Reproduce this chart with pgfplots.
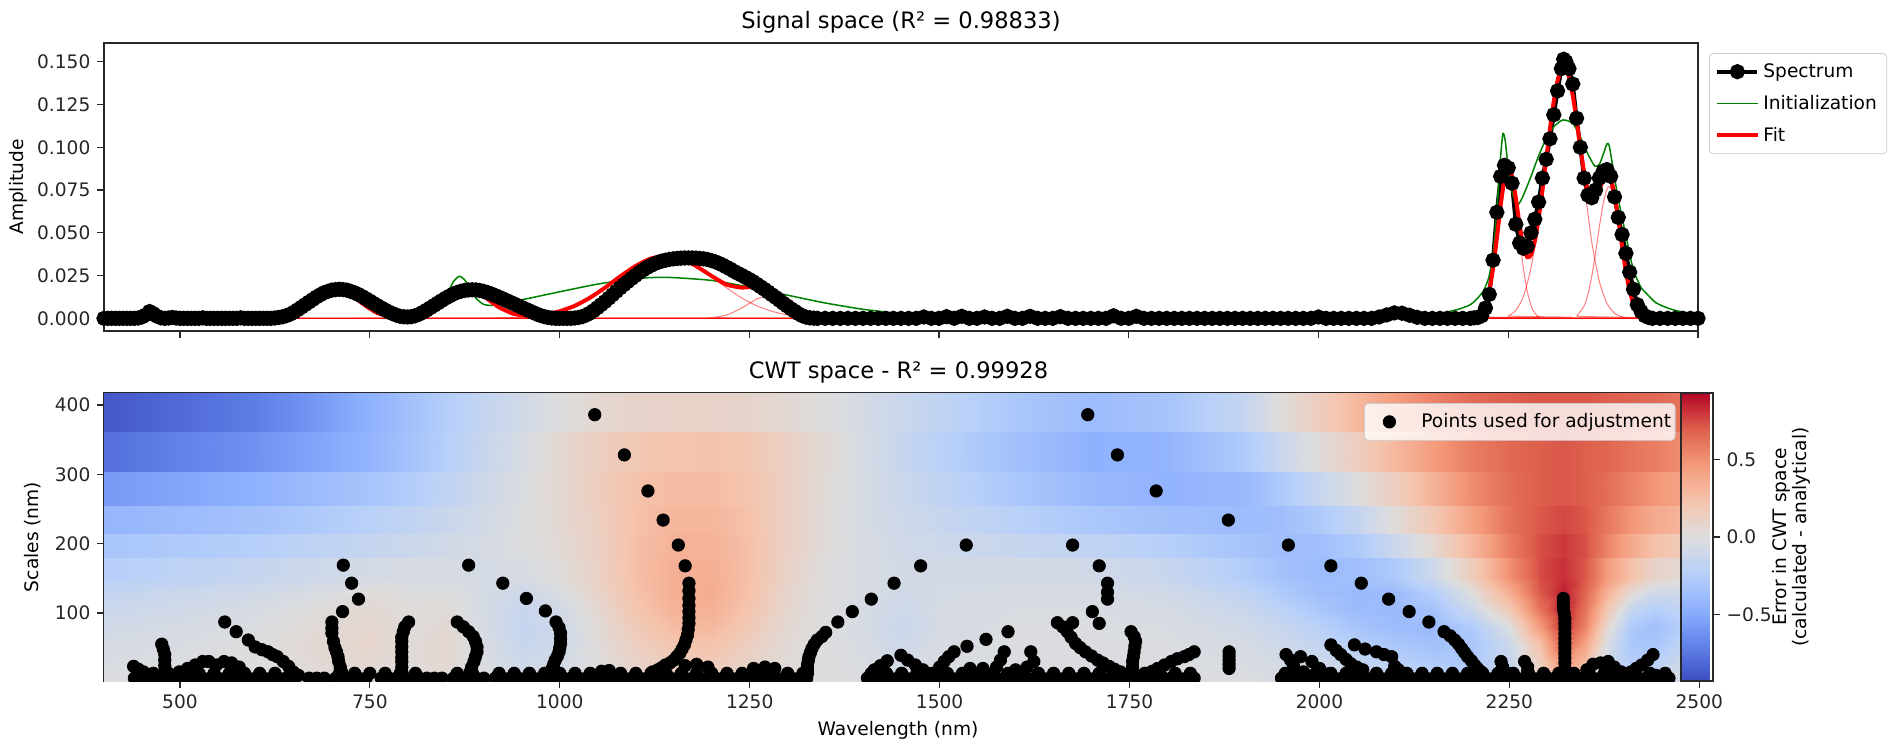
\documentclass[border=0pt]{standalone}
\usepackage{fontspec}
\setmainfont{DejaVu Sans}
\usepackage{pgfplots}
\pgfplotsset{compat=1.18}
\pgfplotsset{colormap={coolwarm}{rgb255=(59,76,192) rgb255=(98,130,234) rgb255=(141,176,254) rgb255=(184,208,249) rgb255=(221,221,221) rgb255=(245,196,173) rgb255=(244,154,123) rgb255=(222,96,77) rgb255=(180,4,38)}}
\definecolor{mplgreen}{RGB}{0,128,0}
\definecolor{spine}{RGB}{40,40,40}
\pgfplotsset{
  myaxis/.style={
    scale only axis,
    axis line style={spine, line width=0.6pt},
    tick align=outside,
    xtick pos=left, ytick pos=left,
    major tick length=3.5pt,
    every tick/.style={spine, line width=0.6pt},
    tick label style={font=\fontsize{9.3pt}{11pt}\selectfont, text=black!85},
    /pgf/number format/assume math mode=true,
    /pgf/number format/1000 sep={},
    label style={font=\fontsize{9.3pt}{11pt}\selectfont},
    title style={font=\fontsize{11.3pt}{13pt}\selectfont, yshift=-4.5pt},
    legend style={font=\fontsize{9.3pt}{11pt}\selectfont, draw=black!20, rounded corners=2pt, fill=white, fill opacity=0.8, text opacity=1},
    legend cell align=left,
  },
  comp/.style={red, opacity=0.5, line width=0.5pt, smooth, tension=0.4, forget plot, no marks},
}
\begin{document}
\fontsize{9.3pt}{11pt}\selectfont
\begin{tikzpicture}
\path[use as bounding box] (0,0) rectangle (945.5pt,-372pt);
% ---------------- top axis ----------------
\begin{axis}[myaxis, at={(52pt,-21.5pt)}, anchor=north west, width=797pt, height=144pt,
  xmin=400, xmax=2500, ymin=-0.0074, ymax=0.161,
  xtick={500,750,...,2500}, xticklabels={},
  ytick={0,0.025,0.05,0.075,0.1,0.125,0.15},
  yticklabel style={/pgf/number format/.cd, fixed, fixed zerofill, precision=3},
  scaled y ticks=false,
  ylabel={Amplitude}, ylabel style={at={(axis description cs:-0.054,0.5)}, anchor=center},
  title={Signal space (R² = 0.98833)},
  legend style={at={(1,1)}, anchor=north west, xshift=5.5pt, yshift=-5pt, row sep=3.5pt, inner ysep=3pt},
  legend image code/.code={\draw[mark repeat=2,mark phase=2,#1, opacity=1] plot coordinates {(0pt,0pt) (10pt,0pt) (20pt,0pt)};},
]
\addplot[black, line width=2pt, mark=*, mark size=2.8pt, mark options={solid}] coordinates {
(400,0) (405,0) (410,0) (415,0) (420,0) (425,0) (430,0) (435,0) (440,0) (445,0.0002) (450,0.0008) (455,0.002) (460,0.004) (465,0.0028) (470,0.0012) (475,0.0003) (480,0) (485,0.0002) (490,0.0005) (495,0.0002) (500,0) (505,0) (510,0) (515,0) (520,0) (525,0) (530,0.0003) (535,0) (540,0) (545,0) (550,0) (555,0) (560,0) (565,0) (570,0) (575,0) (580,0.0003) (585,0) (590,0) (595,0) (600,0) (605,0) (610,0) (615,0) (620,0) (625,0.0002) (630,0.0005) (635,0.0009) (640,0.0015) (645,0.0024) (650,0.0035) (655,0.005) (660,0.0065) (665,0.008) (670,0.0095) (675,0.011) (680,0.0125) (685,0.0138) (690,0.015) (695,0.0158) (700,0.0165) (705,0.0168) (710,0.017) (715,0.0168) (720,0.0165) (725,0.0158) (730,0.015) (735,0.014) (740,0.0128) (745,0.0115) (750,0.0102) (755,0.0088) (760,0.0075) (765,0.0062) (770,0.005) (775,0.0038) (780,0.0028) (785,0.0019) (790,0.0012) (795,0.0009) (800,0.0008) (805,0.001) (810,0.0015) (815,0.0024) (820,0.0035) (825,0.0048) (830,0.0062) (835,0.0076) (840,0.009) (845,0.0104) (850,0.0118) (855,0.013) (860,0.0142) (865,0.0151) (870,0.0158) (875,0.0163) (880,0.0166) (885,0.0167) (890,0.0166) (895,0.0163) (900,0.0158) (905,0.0151) (910,0.0143) (915,0.0134) (920,0.0125) (925,0.0115) (930,0.0105) (935,0.0095) (940,0.0085) (945,0.0075) (950,0.0065) (955,0.0055) (960,0.0045) (965,0.0035) (970,0.0025) (975,0.0017) (980,0.001) (985,0.0005) (990,0.0002) (995,0) (1000,0) (1005,0) (1010,0) (1015,0) (1020,0.0002) (1025,0.0005) (1030,0.001) (1035,0.0019) (1040,0.003) (1045,0.0045) (1050,0.0062) (1055,0.008) (1060,0.0098) (1065,0.0118) (1070,0.0138) (1075,0.0158) (1080,0.0178) (1085,0.0197) (1090,0.0215) (1095,0.0233) (1100,0.025) (1105,0.0267) (1110,0.0282) (1115,0.0296) (1120,0.0308) (1125,0.0319) (1130,0.0328) (1135,0.0335) (1140,0.034) (1145,0.0345) (1150,0.0348) (1155,0.035) (1160,0.0352) (1165,0.0353) (1170,0.0353) (1175,0.0353) (1180,0.0352) (1185,0.035) (1190,0.0348) (1195,0.0344) (1200,0.0338) (1205,0.0331) (1210,0.0322) (1215,0.0312) (1220,0.03) (1225,0.0288) (1230,0.0275) (1235,0.0263) (1240,0.0252) (1245,0.024) (1250,0.0228) (1255,0.0215) (1260,0.02) (1265,0.0185) (1270,0.017) (1275,0.0154) (1280,0.0138) (1285,0.0122) (1290,0.0105) (1295,0.0088) (1300,0.0072) (1305,0.0056) (1310,0.0042) (1315,0.0027) (1320,0.0015) (1325,0.0007) (1330,0.0003) (1335,0.0001)
(1340,0) (1350,0) (1360,0) (1370,0) (1380,0) (1390,0) (1400,0) (1410,0) (1420,0) (1430,0) (1440,0) (1450,0) (1460,0) (1470,0) (1480,0.0008) (1490,0) (1500,0) (1510,0.001) (1520,0) (1530,0.0012) (1540,0) (1550,0) (1560,0.0008) (1570,0) (1580,0) (1590,0.0012) (1600,0) (1610,0) (1620,0.0012) (1630,0) (1640,0) (1650,0) (1660,0.001) (1670,0) (1680,0) (1690,0) (1700,0) (1710,0) (1720,0) (1730,0.0015) (1740,0) (1750,0) (1760,0.0012) (1770,0) (1780,0) (1790,0) (1800,0) (1810,0) (1820,0) (1830,0) (1840,0) (1850,0) (1860,0) (1870,0) (1880,0) (1890,0) (1900,0) (1910,0) (1920,0) (1930,0) (1940,0) (1950,0) (1960,0) (1970,0) (1980,0) (1990,0) (2000,0.0008) (2010,0) (2020,0) (2030,0) (2040,0) (2050,0) (2060,0) (2070,0) (2080,0.0008) (2090,0.002) (2100,0.0032) (2110,0.003) (2120,0.0018) (2130,0.0006) (2140,0) (2150,0) (2160,0) (2170,0) (2180,0) (2190,0)
(2200,0) (2205,0.0003) (2210,0.0005) (2215,0.0015) (2220,0.006) (2225,0.014) (2230,0.034) (2235,0.062) (2240,0.083) (2245,0.0895) (2250,0.088) (2255,0.079) (2260,0.055) (2265,0.044) (2270,0.041) (2275,0.042) (2280,0.05) (2285,0.058) (2290,0.068) (2295,0.082) (2300,0.093) (2305,0.105) (2310,0.119) (2315,0.133) (2320,0.146) (2323,0.1515) (2326,0.15) (2330,0.146) (2335,0.137) (2340,0.117) (2345,0.1) (2350,0.082) (2355,0.072) (2360,0.0705) (2365,0.075) (2370,0.082) (2375,0.086) (2380,0.087) (2385,0.083) (2390,0.071) (2395,0.059) (2400,0.049) (2405,0.038) (2410,0.027) (2415,0.017) (2420,0.008) (2425,0.004) (2430,0.0015) (2435,0.0005) (2440,0) (2450,0) (2460,0) (2470,0) (2480,0) (2490,0) (2500,0)};
\addlegendentry{Spectrum}
\addplot[mplgreen, line width=0.75pt, smooth, tension=0.4, no marks] coordinates {
(400,0) (440,0) (450,0.0004) (455,0.0015) (460,0.0028) (465,0.0026) (470,0.0012) (480,0.0001) (500,0) (600,0) (620,0.0001) (640,0.0004) (660,0.0027) (680,0.0096) (690,0.0142) (700,0.0178) (708,0.0188) (720,0.0167) (740,0.0082) (760,0.0028) (780,0.0016) (800,0.0018) (820,0.0026) (830,0.0035) (840,0.0059) (850,0.0124) (860,0.0212) (868,0.0246) (875,0.0226) (880,0.0192) (890,0.0118) (900,0.0082) (910,0.0076) (930,0.0092) (950,0.0108) (1000,0.0155) (1050,0.02) (1100,0.0232) (1140,0.024) (1200,0.0222) (1250,0.0183) (1300,0.0136) (1350,0.009) (1400,0.0053) (1450,0.0028) (1500,0.0013) (1550,0.0006) (1600,0.0002) (1700,0) (2060,0) (2090,0.0012) (2100,0.0018) (2110,0.0012) (2130,0.0008) (2150,0.002) (2182,0.005) (2200,0.008) (2210,0.012) (2218,0.0166) (2225,0.025) (2231,0.042) (2236,0.07) (2240,0.095) (2243,0.108) (2246,0.104) (2250,0.088) (2255,0.074) (2260,0.068) (2264,0.067) (2270,0.072) (2280,0.083) (2290,0.095) (2300,0.105) (2310,0.112) (2322,0.116) (2335,0.114) (2345,0.106) (2355,0.096) (2364,0.089) (2370,0.09) (2376,0.097) (2380,0.102) (2383,0.101) (2388,0.088) (2394,0.072) (2400,0.059) (2408,0.042) (2415,0.028) (2425,0.018) (2432,0.0146) (2445,0.009) (2467,0.005) (2500,0.002)};
\addlegendentry{Initialization}
\addplot[red, line width=2pt, smooth, tension=0.4, no marks] coordinates {
(400,0) (440,0) (450,0.0004) (455,0.0015) (460,0.0028) (465,0.0026) (470,0.0012) (480,0.0001) (500,0) (600,0) (620,0.0004) (640,0.0021) (660,0.0068) (680,0.0142) (690,0.0173) (700,0.0189) (710,0.0185) (720,0.0162) (740,0.0089) (760,0.0031) (780,0.0011) (800,0.0018) (820,0.0054) (840,0.0116) (860,0.0173) (872,0.0185) (880,0.018) (900,0.013) (920,0.0066) (940,0.0026) (960,0.0015) (980,0.0022) (1000,0.0041) (1020,0.0073) (1040,0.012) (1060,0.0179) (1080,0.0245) (1100,0.0305) (1120,0.0349) (1140,0.0365) (1160,0.0349) (1180,0.0306) (1200,0.0249) (1220,0.0198) (1240,0.018) (1260,0.0186) (1280,0.0169) (1300,0.0108) (1320,0.0046) (1340,0.0013) (1360,0.0002) (1380,0) (2060,0) (2080,0.0005) (2090,0.0014) (2100,0.002) (2110,0.0014) (2120,0.0005) (2140,0) (2200,0.0001) (2210,0.0011) (2215,0.003) (2220,0.0077) (2225,0.0159) (2230,0.0293) (2235,0.0469) (2240,0.066) (2245,0.0812) (2250,0.0874) (2255,0.0831) (2260,0.0703) (2265,0.0547) (2270,0.042) (2275,0.0358) (2280,0.0371) (2285,0.0451) (2290,0.0582) (2295,0.0748) (2300,0.093) (2305,0.111) (2310,0.127) (2315,0.139) (2320,0.1459) (2323,0.147) (2325,0.1466) (2330,0.1411) (2335,0.1302) (2340,0.1158) (2345,0.1) (2350,0.0854) (2355,0.0745) (2360,0.0693) (2365,0.07) (2370,0.075) (2375,0.0811) (2380,0.0843) (2385,0.0815) (2390,0.0722) (2395,0.058) (2400,0.0421) (2405,0.0274) (2410,0.0161) (2415,0.0084) (2420,0.004) (2425,0.0017) (2430,0.0006) (2440,0.0001) (2500,0)};
\addlegendentry{Fit}
\addplot[comp] coordinates {(400,0) (440,0) (450,0.0004) (455,0.0015) (460,0.0028) (462,0.003) (465,0.0026) (470,0.0012) (475,0.0003) (485,0) (2500,0)};
\addplot[comp] coordinates {(400,0) (600,0) (620,0.0004) (640,0.0021) (660,0.0068) (680,0.0142) (690,0.0173) (703,0.019) (716,0.0173) (720,0.0162) (740,0.0089) (760,0.0031) (780,0.0007) (800,0.0001) (820,0) (2500,0)};
\addplot[comp] coordinates {(400,0) (760,0) (780,0.0004) (800,0.0017) (820,0.0054) (840,0.0116) (860,0.0173) (872,0.0185) (884,0.0173) (900,0.0129) (920,0.0064) (940,0.0022) (960,0.0005) (980,0.0001) (1000,0) (2500,0)};
\addplot[comp] coordinates {(400,0) (880,0) (900,0.0001) (940,0.0004) (960,0.001) (980,0.0021) (1000,0.0041) (1020,0.0073) (1040,0.012) (1060,0.0179) (1080,0.0245) (1100,0.0305) (1120,0.0349) (1140,0.0365) (1160,0.0349) (1180,0.0305) (1200,0.0245) (1220,0.0179) (1240,0.012) (1260,0.0073) (1280,0.0041) (1300,0.0021) (1320,0.001) (1340,0.0004) (1360,0.0001) (1400,0) (2500,0)};
\addplot[comp] coordinates {(400,0) (1180,0) (1200,0.0004) (1220,0.0019) (1240,0.006) (1260,0.0113) (1275,0.013) (1290,0.0113) (1300,0.0087) (1320,0.0036) (1340,0.0009) (1360,0.0001) (1380,0) (2500,0)};
\addplot[comp] coordinates {(400,0) (2070,0) (2080,0.0005) (2090,0.0014) (2100,0.002) (2110,0.0014) (2120,0.0005) (2130,0) (2500,0)};
\addplot[comp] coordinates {(400,0) (2200,0.0001) (2210,0.0011) (2220,0.0076) (2225,0.0159) (2230,0.0292) (2235,0.0468) (2240,0.0656) (2245,0.0804) (2250,0.086) (2255,0.0804) (2260,0.0656) (2265,0.0468) (2270,0.0292) (2275,0.0159) (2280,0.0076) (2285,0.0031) (2290,0.0011) (2300,0.0001) (2500,0)};
\addplot[comp] coordinates {(400,0) (2240,0.0004) (2250,0.0014) (2260,0.0047) (2270,0.0128) (2280,0.0295) (2290,0.0571) (2300,0.0929) (2305,0.111) (2310,0.127) (2315,0.139) (2320,0.1459) (2323,0.147) (2326,0.1459) (2330,0.1409) (2335,0.1297) (2340,0.1144) (2345,0.0966) (2350,0.0781) (2360,0.0448) (2370,0.0216) (2380,0.0088) (2390,0.003) (2400,0.0009) (2410,0.0002) (2500,0)};
\addplot[comp] coordinates {(400,0) (2330,0.0002) (2340,0.0014) (2350,0.0073) (2355,0.0141) (2360,0.0245) (2365,0.0382) (2370,0.0534) (2375,0.067) (2380,0.0755) (2383,0.077) (2386,0.0755) (2390,0.0692) (2395,0.0564) (2400,0.0412) (2405,0.027) (2410,0.0159) (2415,0.0084) (2420,0.004) (2430,0.0006) (2440,0.0001) (2500,0)};
\end{axis}
% ---------------- bottom axis ----------------
\begin{axis}[myaxis, at={(52pt,-196.5pt)}, anchor=north west, width=804.5pt, height=144pt,
  xmin=400, xmax=2518, ymin=1.9, ymax=417.3,
  xtick={500,750,...,2500}, ytick={100,200,300,400},
  colormap name=coolwarm, point meta min=-0.93, point meta max=0.93,
  colorbar,
  colorbar style={
    at={(parent axis.north east)}, anchor=north east, xshift=-0.3cm,
    width=16pt,
    ytick={-0.5,0,0.5}, yticklabels={−0.5,0.0,0.5},
    ytick pos=right, yticklabel pos=right,
    tick align=outside, major tick length=3.5pt,
    every tick/.style={spine, line width=0.6pt},
    axis line style={spine, line width=0.6pt},
    tick label style={font=\fontsize{9.3pt}{11pt}\selectfont, text=black!85},
    ylabel={Error in CWT space\\(calculated - analytical)},
    ylabel style={at={(axis description cs:3.45,0.5)}, anchor=center, align=center, font=\fontsize{9.3pt}{10.3pt}\selectfont},
  },
  xlabel={Wavelength (nm)}, xlabel style={at={(axis description cs:0.4935,-0.170)}, anchor=center},
  ylabel={Scales (nm)}, ylabel style={at={(axis description cs:-0.0441,0.5)}, anchor=center},
  title={CWT space - R² = 0.99928}, title style={xshift=-5pt},
  clip marker paths=true,
  legend style={at={(0.7831,1)}, anchor=north west, yshift=-5pt, inner xsep=0pt, inner ysep=3pt},
  legend image code/.code={\path[draw=none] (-12.5pt,0pt) -- (14pt,0pt); \draw[#1, opacity=1] plot coordinates {(0pt,0pt)};},
]
\addplot[surf, shader=interp, mesh/cols=38, point meta=explicit, forget plot] table[row sep=\\, meta=v] {
x y v\\
400 417 -0.88\\ 500 417 -0.80\\ 600 417 -0.72\\ 700 417 -0.55\\ 750 417 -0.45\\ 800 417 -0.35\\ 850 417 -0.25\\ 900 417 -0.16\\ 950 417 -0.08\\ 1000 417 0.00\\ 1050 417 0.06\\ 1100 417 0.09\\ 1150 417 0.10\\ 1200 417 0.10\\ 1250 417 0.08\\ 1300 417 0.05\\ 1350 417 0.00\\ 1400 417 -0.06\\ 1450 417 -0.12\\ 1500 417 -0.18\\ 1600 417 -0.30\\ 1700 417 -0.38\\ 1800 417 -0.32\\ 1900 417 -0.15\\ 1950 417 0.02\\ 2000 417 0.15\\ 2050 417 0.30\\ 2100 417 0.45\\ 2150 417 0.56\\ 2200 417 0.65\\ 2250 417 0.70\\ 2290 417 0.72\\ 2320 417 0.72\\ 2350 417 0.72\\ 2380 417 0.70\\ 2410 417 0.68\\ 2440 417 0.66\\ 2475 417 0.62\\
400 362 -0.88\\ 500 362 -0.80\\ 600 362 -0.72\\ 700 362 -0.55\\ 750 362 -0.45\\ 800 362 -0.35\\ 850 362 -0.25\\ 900 362 -0.16\\ 950 362 -0.08\\ 1000 362 0.00\\ 1050 362 0.06\\ 1100 362 0.09\\ 1150 362 0.10\\ 1200 362 0.10\\ 1250 362 0.08\\ 1300 362 0.05\\ 1350 362 0.00\\ 1400 362 -0.06\\ 1450 362 -0.12\\ 1500 362 -0.18\\ 1600 362 -0.30\\ 1700 362 -0.38\\ 1800 362 -0.32\\ 1900 362 -0.15\\ 1950 362 0.02\\ 2000 362 0.15\\ 2050 362 0.30\\ 2100 362 0.45\\ 2150 362 0.56\\ 2200 362 0.65\\ 2250 362 0.70\\ 2290 362 0.72\\ 2320 362 0.72\\ 2350 362 0.72\\ 2380 362 0.70\\ 2410 362 0.68\\ 2440 362 0.66\\ 2475 362 0.62\\
400 361 -0.78\\ 500 361 -0.70\\ 600 361 -0.62\\ 700 361 -0.50\\ 750 361 -0.43\\ 800 361 -0.34\\ 850 361 -0.24\\ 900 361 -0.14\\ 950 361 -0.04\\ 1000 361 0.06\\ 1050 361 0.14\\ 1100 361 0.20\\ 1150 361 0.23\\ 1200 361 0.24\\ 1250 361 0.20\\ 1300 361 0.12\\ 1350 361 0.04\\ 1400 361 -0.05\\ 1450 361 -0.14\\ 1500 361 -0.22\\ 1600 361 -0.35\\ 1700 361 -0.45\\ 1800 361 -0.43\\ 1900 361 -0.28\\ 1950 361 -0.12\\ 2000 361 0.02\\ 2050 361 0.15\\ 2100 361 0.30\\ 2150 361 0.45\\ 2200 361 0.58\\ 2250 361 0.66\\ 2290 361 0.70\\ 2320 361 0.72\\ 2350 361 0.70\\ 2380 361 0.67\\ 2410 361 0.62\\ 2440 361 0.58\\ 2475 361 0.52\\
400 304 -0.78\\ 500 304 -0.70\\ 600 304 -0.62\\ 700 304 -0.50\\ 750 304 -0.43\\ 800 304 -0.34\\ 850 304 -0.24\\ 900 304 -0.14\\ 950 304 -0.04\\ 1000 304 0.06\\ 1050 304 0.14\\ 1100 304 0.20\\ 1150 304 0.23\\ 1200 304 0.24\\ 1250 304 0.20\\ 1300 304 0.12\\ 1350 304 0.04\\ 1400 304 -0.05\\ 1450 304 -0.14\\ 1500 304 -0.22\\ 1600 304 -0.35\\ 1700 304 -0.45\\ 1800 304 -0.43\\ 1900 304 -0.28\\ 1950 304 -0.12\\ 2000 304 0.02\\ 2050 304 0.15\\ 2100 304 0.30\\ 2150 304 0.45\\ 2200 304 0.58\\ 2250 304 0.66\\ 2290 304 0.70\\ 2320 304 0.72\\ 2350 304 0.70\\ 2380 304 0.67\\ 2410 304 0.62\\ 2440 304 0.58\\ 2475 304 0.52\\
400 303 -0.58\\ 500 303 -0.52\\ 600 303 -0.45\\ 700 303 -0.36\\ 750 303 -0.32\\ 800 303 -0.26\\ 850 303 -0.18\\ 900 303 -0.10\\ 950 303 -0.02\\ 1000 303 0.06\\ 1050 303 0.15\\ 1100 303 0.24\\ 1150 303 0.28\\ 1200 303 0.28\\ 1250 303 0.22\\ 1300 303 0.12\\ 1350 303 0.03\\ 1400 303 -0.05\\ 1450 303 -0.12\\ 1500 303 -0.18\\ 1600 303 -0.30\\ 1700 303 -0.40\\ 1800 303 -0.44\\ 1900 303 -0.40\\ 1950 303 -0.28\\ 2000 303 -0.14\\ 2050 303 0.00\\ 2100 303 0.15\\ 2150 303 0.33\\ 2200 303 0.52\\ 2250 303 0.64\\ 2290 303 0.70\\ 2320 303 0.72\\ 2350 303 0.70\\ 2380 303 0.64\\ 2410 303 0.56\\ 2440 303 0.48\\ 2475 303 0.42\\
400 256 -0.58\\ 500 256 -0.52\\ 600 256 -0.45\\ 700 256 -0.36\\ 750 256 -0.32\\ 800 256 -0.26\\ 850 256 -0.18\\ 900 256 -0.10\\ 950 256 -0.02\\ 1000 256 0.06\\ 1050 256 0.15\\ 1100 256 0.24\\ 1150 256 0.28\\ 1200 256 0.28\\ 1250 256 0.22\\ 1300 256 0.12\\ 1350 256 0.03\\ 1400 256 -0.05\\ 1450 256 -0.12\\ 1500 256 -0.18\\ 1600 256 -0.30\\ 1700 256 -0.40\\ 1800 256 -0.44\\ 1900 256 -0.40\\ 1950 256 -0.28\\ 2000 256 -0.14\\ 2050 256 0.00\\ 2100 256 0.15\\ 2150 256 0.33\\ 2200 256 0.52\\ 2250 256 0.64\\ 2290 256 0.70\\ 2320 256 0.72\\ 2350 256 0.70\\ 2380 256 0.64\\ 2410 256 0.56\\ 2440 256 0.48\\ 2475 256 0.42\\
400 255 -0.42\\ 500 255 -0.38\\ 600 255 -0.34\\ 700 255 -0.26\\ 750 255 -0.22\\ 800 255 -0.18\\ 850 255 -0.13\\ 900 255 -0.07\\ 950 255 -0.01\\ 1000 255 0.05\\ 1050 255 0.14\\ 1100 255 0.25\\ 1150 255 0.31\\ 1200 255 0.31\\ 1250 255 0.24\\ 1300 255 0.12\\ 1350 255 0.02\\ 1400 255 -0.05\\ 1450 255 -0.10\\ 1500 255 -0.14\\ 1600 255 -0.22\\ 1700 255 -0.30\\ 1800 255 -0.35\\ 1900 255 -0.38\\ 1950 255 -0.36\\ 2000 255 -0.28\\ 2050 255 -0.16\\ 2100 255 0.02\\ 2150 255 0.20\\ 2200 255 0.42\\ 2250 255 0.62\\ 2290 255 0.72\\ 2320 255 0.76\\ 2350 255 0.72\\ 2380 255 0.60\\ 2410 255 0.48\\ 2440 255 0.38\\ 2475 255 0.32\\
400 215 -0.42\\ 500 215 -0.38\\ 600 215 -0.34\\ 700 215 -0.26\\ 750 215 -0.22\\ 800 215 -0.18\\ 850 215 -0.13\\ 900 215 -0.07\\ 950 215 -0.01\\ 1000 215 0.05\\ 1050 215 0.14\\ 1100 215 0.25\\ 1150 215 0.31\\ 1200 215 0.31\\ 1250 215 0.24\\ 1300 215 0.12\\ 1350 215 0.02\\ 1400 215 -0.05\\ 1450 215 -0.10\\ 1500 215 -0.14\\ 1600 215 -0.22\\ 1700 215 -0.30\\ 1800 215 -0.35\\ 1900 215 -0.38\\ 1950 215 -0.36\\ 2000 215 -0.28\\ 2050 215 -0.16\\ 2100 215 0.02\\ 2150 215 0.20\\ 2200 215 0.42\\ 2250 215 0.62\\ 2290 215 0.72\\ 2320 215 0.76\\ 2350 215 0.72\\ 2380 215 0.60\\ 2410 215 0.48\\ 2440 215 0.38\\ 2475 215 0.32\\
400 214 -0.31\\ 500 214 -0.28\\ 600 214 -0.24\\ 700 214 -0.18\\ 750 214 -0.15\\ 800 214 -0.12\\ 850 214 -0.08\\ 900 214 -0.05\\ 950 214 -0.01\\ 1000 214 0.04\\ 1050 214 0.13\\ 1100 214 0.26\\ 1150 214 0.33\\ 1200 214 0.33\\ 1250 214 0.25\\ 1300 214 0.12\\ 1350 214 0.02\\ 1400 214 -0.04\\ 1450 214 -0.08\\ 1500 214 -0.10\\ 1600 214 -0.14\\ 1700 214 -0.18\\ 1800 214 -0.24\\ 1900 214 -0.32\\ 1950 214 -0.36\\ 2000 214 -0.36\\ 2050 214 -0.28\\ 2100 214 -0.12\\ 2150 214 0.06\\ 2200 214 0.30\\ 2250 214 0.58\\ 2290 214 0.74\\ 2320 214 0.80\\ 2350 214 0.74\\ 2380 214 0.55\\ 2410 214 0.38\\ 2440 214 0.25\\ 2475 214 0.18\\
400 181 -0.31\\ 500 181 -0.28\\ 600 181 -0.24\\ 700 181 -0.18\\ 750 181 -0.15\\ 800 181 -0.12\\ 850 181 -0.08\\ 900 181 -0.05\\ 950 181 -0.01\\ 1000 181 0.04\\ 1050 181 0.13\\ 1100 181 0.26\\ 1150 181 0.33\\ 1200 181 0.33\\ 1250 181 0.25\\ 1300 181 0.12\\ 1350 181 0.02\\ 1400 181 -0.04\\ 1450 181 -0.08\\ 1500 181 -0.10\\ 1600 181 -0.14\\ 1700 181 -0.18\\ 1800 181 -0.24\\ 1900 181 -0.32\\ 1950 181 -0.36\\ 2000 181 -0.36\\ 2050 181 -0.28\\ 2100 181 -0.12\\ 2150 181 0.06\\ 2200 181 0.30\\ 2250 181 0.58\\ 2290 181 0.74\\ 2320 181 0.80\\ 2350 181 0.74\\ 2380 181 0.55\\ 2410 181 0.38\\ 2440 181 0.25\\ 2475 181 0.18\\
400 180 -0.24\\ 500 180 -0.20\\ 600 180 -0.15\\ 700 180 -0.09\\ 750 180 -0.06\\ 800 180 -0.05\\ 850 180 -0.05\\ 900 180 -0.06\\ 950 180 -0.04\\ 1000 180 0.02\\ 1050 180 0.12\\ 1100 180 0.26\\ 1150 180 0.35\\ 1200 180 0.35\\ 1250 180 0.25\\ 1300 180 0.10\\ 1350 180 0.00\\ 1400 180 -0.04\\ 1450 180 -0.07\\ 1500 180 -0.07\\ 1600 180 -0.07\\ 1700 180 -0.08\\ 1800 180 -0.14\\ 1900 180 -0.26\\ 1950 180 -0.34\\ 2000 180 -0.38\\ 2050 180 -0.36\\ 2100 180 -0.28\\ 2150 180 -0.10\\ 2200 180 0.15\\ 2250 180 0.50\\ 2290 180 0.75\\ 2320 180 0.82\\ 2350 180 0.72\\ 2380 180 0.45\\ 2410 180 0.25\\ 2440 180 0.10\\ 2475 180 0.05\\
400 152 -0.24\\ 500 152 -0.20\\ 600 152 -0.15\\ 700 152 -0.09\\ 750 152 -0.06\\ 800 152 -0.05\\ 850 152 -0.05\\ 900 152 -0.06\\ 950 152 -0.04\\ 1000 152 0.02\\ 1050 152 0.12\\ 1100 152 0.26\\ 1150 152 0.35\\ 1200 152 0.35\\ 1250 152 0.25\\ 1300 152 0.10\\ 1350 152 0.00\\ 1400 152 -0.04\\ 1450 152 -0.07\\ 1500 152 -0.07\\ 1600 152 -0.07\\ 1700 152 -0.08\\ 1800 152 -0.14\\ 1900 152 -0.26\\ 1950 152 -0.34\\ 2000 152 -0.38\\ 2050 152 -0.36\\ 2100 152 -0.28\\ 2150 152 -0.10\\ 2200 152 0.15\\ 2250 152 0.50\\ 2290 152 0.75\\ 2320 152 0.82\\ 2350 152 0.72\\ 2380 152 0.45\\ 2410 152 0.25\\ 2440 152 0.10\\ 2475 152 0.05\\
400 130 -0.16\\ 500 130 -0.12\\ 600 130 -0.08\\ 700 130 -0.02\\ 750 130 0.02\\ 800 130 0.00\\ 850 130 0.00\\ 900 130 -0.06\\ 950 130 -0.10\\ 1000 130 -0.03\\ 1050 130 0.10\\ 1100 130 0.25\\ 1150 130 0.35\\ 1200 130 0.36\\ 1250 130 0.24\\ 1300 130 0.08\\ 1350 130 0.00\\ 1400 130 -0.04\\ 1450 130 -0.08\\ 1500 130 -0.06\\ 1600 130 -0.04\\ 1700 130 -0.04\\ 1800 130 -0.08\\ 1900 130 -0.18\\ 1950 130 -0.28\\ 2000 130 -0.36\\ 2050 130 -0.40\\ 2100 130 -0.38\\ 2150 130 -0.24\\ 2200 130 0.00\\ 2250 130 0.36\\ 2290 130 0.72\\ 2320 130 0.86\\ 2350 130 0.68\\ 2380 130 0.32\\ 2410 130 0.05\\ 2440 130 -0.08\\ 2475 130 -0.08\\
400 105 -0.12\\ 500 105 -0.08\\ 600 105 -0.04\\ 700 105 0.03\\ 750 105 0.05\\ 800 105 0.02\\ 850 105 0.03\\ 900 105 -0.06\\ 950 105 -0.14\\ 1000 105 -0.08\\ 1050 105 0.06\\ 1100 105 0.22\\ 1150 105 0.33\\ 1200 105 0.34\\ 1250 105 0.22\\ 1300 105 0.07\\ 1350 105 0.00\\ 1400 105 -0.05\\ 1450 105 -0.10\\ 1500 105 -0.05\\ 1600 105 -0.03\\ 1700 105 -0.03\\ 1800 105 -0.05\\ 1900 105 -0.12\\ 1950 105 -0.20\\ 2000 105 -0.30\\ 2050 105 -0.38\\ 2100 105 -0.40\\ 2150 105 -0.34\\ 2200 105 -0.12\\ 2250 105 0.18\\ 2290 105 0.62\\ 2320 105 0.88\\ 2350 105 0.62\\ 2380 105 0.18\\ 2410 105 -0.15\\ 2440 105 -0.25\\ 2475 105 -0.18\\
400 80 -0.08\\ 500 80 -0.05\\ 600 80 -0.02\\ 700 80 0.05\\ 750 80 0.07\\ 800 80 0.02\\ 850 80 0.05\\ 900 80 -0.05\\ 950 80 -0.15\\ 1000 80 -0.10\\ 1050 80 0.03\\ 1100 80 0.18\\ 1150 80 0.28\\ 1200 80 0.30\\ 1250 80 0.18\\ 1300 80 0.05\\ 1350 80 0.00\\ 1400 80 -0.05\\ 1450 80 -0.12\\ 1500 80 -0.05\\ 1600 80 -0.02\\ 1700 80 -0.02\\ 1800 80 -0.03\\ 1900 80 -0.08\\ 1950 80 -0.14\\ 2000 80 -0.22\\ 2050 80 -0.32\\ 2100 80 -0.38\\ 2150 80 -0.40\\ 2200 80 -0.28\\ 2250 80 -0.02\\ 2290 80 0.45\\ 2320 80 0.85\\ 2350 80 0.55\\ 2380 80 0.05\\ 2410 80 -0.28\\ 2440 80 -0.35\\ 2475 80 -0.25\\
400 55 -0.05\\ 500 55 -0.03\\ 600 55 0.00\\ 700 55 0.06\\ 750 55 0.08\\ 800 55 0.02\\ 850 55 0.07\\ 900 55 -0.03\\ 950 55 -0.14\\ 1000 55 -0.10\\ 1050 55 0.02\\ 1100 55 0.14\\ 1150 55 0.22\\ 1200 55 0.24\\ 1250 55 0.14\\ 1300 55 0.04\\ 1350 55 0.00\\ 1400 55 -0.04\\ 1450 55 -0.10\\ 1500 55 -0.04\\ 1600 55 -0.02\\ 1700 55 -0.02\\ 1800 55 -0.02\\ 1900 55 -0.05\\ 1950 55 -0.10\\ 2000 55 -0.16\\ 2050 55 -0.24\\ 2100 55 -0.30\\ 2150 55 -0.35\\ 2200 55 -0.32\\ 2250 55 -0.12\\ 2290 55 0.25\\ 2320 55 0.72\\ 2350 55 0.42\\ 2380 55 -0.05\\ 2410 55 -0.30\\ 2440 55 -0.32\\ 2475 55 -0.18\\
400 30 -0.03\\ 500 30 -0.02\\ 600 30 0.00\\ 700 30 0.05\\ 750 30 0.06\\ 800 30 0.02\\ 850 30 0.06\\ 900 30 -0.02\\ 950 30 -0.10\\ 1000 30 -0.08\\ 1050 30 0.01\\ 1100 30 0.10\\ 1150 30 0.16\\ 1200 30 0.18\\ 1250 30 0.10\\ 1300 30 0.03\\ 1350 30 0.00\\ 1400 30 -0.03\\ 1450 30 -0.07\\ 1500 30 -0.03\\ 1600 30 -0.02\\ 1700 30 -0.02\\ 1800 30 -0.02\\ 1900 30 -0.03\\ 1950 30 -0.06\\ 2000 30 -0.10\\ 2050 30 -0.16\\ 2100 30 -0.22\\ 2150 30 -0.28\\ 2200 30 -0.30\\ 2250 30 -0.15\\ 2290 30 0.15\\ 2320 30 0.50\\ 2350 30 0.28\\ 2380 30 -0.08\\ 2410 30 -0.25\\ 2440 30 -0.24\\ 2475 30 -0.10\\
400 12 -0.02\\ 500 12 -0.01\\ 600 12 0.00\\ 700 12 0.03\\ 750 12 0.04\\ 800 12 0.01\\ 850 12 0.04\\ 900 12 -0.01\\ 950 12 -0.06\\ 1000 12 -0.05\\ 1050 12 0.01\\ 1100 12 0.07\\ 1150 12 0.12\\ 1200 12 0.13\\ 1250 12 0.07\\ 1300 12 0.02\\ 1350 12 0.00\\ 1400 12 -0.02\\ 1450 12 -0.04\\ 1500 12 -0.02\\ 1600 12 -0.01\\ 1700 12 -0.01\\ 1800 12 -0.01\\ 1900 12 -0.02\\ 1950 12 -0.04\\ 2000 12 -0.06\\ 2050 12 -0.10\\ 2100 12 -0.15\\ 2150 12 -0.20\\ 2200 12 -0.22\\ 2250 12 -0.12\\ 2290 12 0.10\\ 2320 12 0.32\\ 2350 12 0.18\\ 2380 12 -0.06\\ 2410 12 -0.18\\ 2440 12 -0.16\\ 2475 12 -0.06\\
400 1.9 -0.02\\ 500 1.9 -0.01\\ 600 1.9 0.00\\ 700 1.9 0.03\\ 750 1.9 0.04\\ 800 1.9 0.01\\ 850 1.9 0.04\\ 900 1.9 -0.01\\ 950 1.9 -0.06\\ 1000 1.9 -0.05\\ 1050 1.9 0.01\\ 1100 1.9 0.07\\ 1150 1.9 0.12\\ 1200 1.9 0.13\\ 1250 1.9 0.07\\ 1300 1.9 0.02\\ 1350 1.9 0.00\\ 1400 1.9 -0.02\\ 1450 1.9 -0.04\\ 1500 1.9 -0.02\\ 1600 1.9 -0.01\\ 1700 1.9 -0.01\\ 1800 1.9 -0.01\\ 1900 1.9 -0.02\\ 1950 1.9 -0.04\\ 2000 1.9 -0.06\\ 2050 1.9 -0.10\\ 2100 1.9 -0.15\\ 2150 1.9 -0.20\\ 2200 1.9 -0.22\\ 2250 1.9 -0.12\\ 2290 1.9 0.10\\ 2320 1.9 0.32\\ 2350 1.9 0.18\\ 2380 1.9 -0.06\\ 2410 1.9 -0.18\\ 2440 1.9 -0.16\\ 2475 1.9 -0.06\\
};
\addplot[only marks, mark=*, mark size=3.1pt, black] coordinates {
(439,23) (445,19) (452,15) (458,11) (465,8) (476,55) (478,48) (480,40) (480,32) (480,24) (480,16)
(499,15) (510,20) (520,25) (530,30) (538,30) (548,25) (558,30) (568,28) (578,22)
(559,87) (574,73) (590,61) (599,51) (608,47) (616,44) (622,40) (628,37) (636,30) (643,23) (649,15) (656,10)
(715,169) (726,143) (735,120) (714,102) (700,87) (700,78) (700,71) (702,59) (704,50) (706,44) (708,37) (709,30) (711,22) (713,14)
(801,87) (796,80) (794,73) (792,65) (792,59) (792,51) (792,44) (792,36) (792,30) (792,22) (792,15)
(865,87) (873,80) (880,73) (886,66) (889,59) (891,51) (891,44) (889,37) (887,30) (884,22) (882,15)
(880,169) (925,143) (956,121) (981,103) (995,87) (999,79) (1001,71) (1001,63) (1001,56) (1000,50) (999,44) (997,38) (994,32) (992,26) (990,20) (989,14)
(1046,386) (1085,328) (1116,276) (1136,234) (1156,198) (1165,168) (1170,143) (1170,132) (1170,121) (1170,111) (1170,102) (1170,93) (1170,85) (1169,76) (1168,68) (1166,61) (1164,54) (1161,48) (1158,42) (1154,37) (1150,32) (1145,28) (1139,25) (1134,21) (1129,18) (1122,15)
(1055,16) (1065,17) (1165,24) (1180,26) (1195,22) (1255,20) (1270,22) (1283,20)
(1535,198) (1475,168) (1440,143) (1410,120) (1385,102) (1366,87) (1350,72) (1345,66) (1339,61) (1335,55) (1332,49) (1330,43) (1328,37) (1327,31) (1326,25) (1326,19) (1326,13)
(1414,18) (1422,24) (1431,31) (1449,39) (1458,32) (1468,25) (1478,18) (1488,11)
(1500,22) (1506,30) (1512,37) (1519,44) (1536,52) (1561,62) (1590,73) (1540,20) (1557,20) (1585,44) (1580,32) (1575,22) (1620,44) (1624,30) (1615,22) (1600,18)
(1695,386) (1734,328) (1785,276) (1880,234) (1959,198) (2015,168) (2055,143) (2091,120) (2118,102) (2144,87) (2164,73) (2172,67) (2178,61) (2183,55) (2187,49) (2191,43) (2195,37) (2200,31) (2204,25) (2208,20) (2213,15)
(1675,198) (1710,168) (1721,143) (1721,130) (1721,120) (1701,102) (1710,85)
(1655,86) (1675,86) (1662,80) (1668,73) (1673,65) (1679,56) (1685,50) (1692,44) (1700,38) (1708,32) (1715,28) (1723,23) (1730,19) (1738,15)
(1752,73) (1756,66) (1758,59) (1757,52) (1756,44) (1755,37) (1754,30) (1754,22) (1754,15)
(1835,44) (1828,40) (1822,37) (1813,34) (1805,30) (1796,25) (1787,20) (1780,16) (1774,13)
(1881,44) (1881,38) (1881,32) (1881,26) (1881,20)
(1956,40) (1962,32) (1966,23) (1975,37) (1979,15) (1990,30) (2000,20) (2010,12)
(2015,54) (2022,46) (2028,40) (2035,33) (2041,27) (2049,22) (2057,18)
(2046,54) (2060,48) (2075,44) (2085,40) (2095,37) (2099,23) (2104,18) (2108,13)
(2239,30) (2241,22) (2244,15) (2270,30) (2274,22) (2274,15) (2298,8)
(2321,121) (2321,114) (2321,107) (2322,100) (2323,92) (2323,85) (2323,78) (2323,70) (2323,63) (2323,56) (2323,49) (2323,42) (2323,35) (2323,28) (2323,20) (2323,12)
(2352,18) (2360,26) (2370,28) (2380,30) (2388,22) (2354,10)
(2439,40) (2432,32) (2424,25) (2417,20) (2410,15) (2443,10) (2397,15) (2405,12) (2450,8)
(440,6) (450,6) (460,6) (470,6) (480,6) (490,6) (500,6) (510,6) (520,6) (530,6) (540,6) (550,6) (560,6) (570,6) (580,6) (590,6) (600,6) (610,6) (620,6) (630,6) (640,6) (650,6)
(445,13) (465,13) (485,13) (505,13) (525,13) (545,13) (565,13) (585,13) (605,13) (625,13) (645,13)
(670,6) (680,6) (690,6) (705,6) (715,6) (725,6) (735,6) (745,6) (710,13) (730,13) (750,13)
(765,6) (775,6) (785,6) (795,6) (805,6) (815,6) (770,13) (790,13) (810,13) (825,6) (835,6) (845,6)
(860,6) (870,6) (880,6) (890,6) (900,6) (865,13) (885,13)
(915,6) (925,6) (935,6) (945,6) (955,6) (965,6) (975,6) (985,6) (995,6) (1005,6) (1015,6) (1025,6) (1035,6) (1045,6) (1055,6) (1065,6) (1075,6) (1085,6) (1095,6) (1105,6) (1115,6) (1125,6) (1135,6) (1145,6) (1155,6) (1165,6) (1175,6) (1185,6) (1195,6) (1205,6) (1215,6) (1225,6) (1235,6) (1245,6) (1255,6) (1265,6) (1275,6) (1285,6) (1295,6) (1305,6) (1315,6) (1325,6)
(920,13) (940,13) (960,13) (980,13) (1000,13) (1020,13) (1040,13) (1060,13) (1080,13) (1100,13) (1120,13) (1140,13) (1160,13) (1180,13) (1200,13) (1220,13) (1240,13) (1260,13) (1280,13) (1300,13) (1320,13)
(1405,6) (1415,6) (1425,6) (1435,6) (1445,6) (1455,6) (1465,6) (1475,6) (1485,6) (1495,6) (1505,6) (1515,6) (1525,6) (1535,6) (1545,6) (1555,6) (1565,6) (1575,6) (1585,6) (1595,6) (1605,6) (1615,6) (1625,6) (1635,6) (1645,6) (1655,6) (1665,6) (1675,6) (1685,6) (1695,6) (1705,6) (1715,6) (1725,6) (1735,6) (1745,6) (1755,6) (1765,6) (1775,6) (1785,6) (1795,6) (1805,6) (1815,6) (1825,6) (1835,6)
(1410,13) (1430,13) (1450,13) (1470,13) (1490,13) (1510,13) (1530,13) (1550,13) (1570,13) (1590,13) (1610,13) (1630,13) (1650,13) (1670,13) (1690,13) (1710,13) (1730,13) (1750,13) (1770,13) (1790,13) (1810,13) (1830,13)
(1950,6) (1960,6) (1970,6) (1980,6) (1990,6) (2000,6) (2010,6) (2020,6) (2030,6) (2040,6) (2050,6) (2060,6) (2070,6) (2080,6) (2090,6) (2100,6) (2110,6) (2120,6) (2130,6) (2140,6) (2150,6) (2160,6) (2170,6) (2180,6) (2190,6) (2200,6) (2210,6) (2220,6) (2230,6) (2240,6) (2250,6) (2260,6) (2270,6) (2280,6) (2290,6) (2300,6) (2310,6) (2320,6) (2330,6) (2340,6) (2350,6) (2360,6) (2370,6) (2380,6) (2390,6) (2400,6) (2410,6) (2420,6) (2430,6) (2440,6) (2450,6) (2460,6)
(1955,13) (1975,13) (1995,13) (2015,13) (2035,13) (2055,13) (2075,13) (2095,13) (2115,13) (2135,13) (2155,13) (2175,13) (2195,13) (2215,13) (2235,13) (2255,13) (2275,13) (2295,13) (2315,13) (2335,13) (2355,13) (2375,13) (2395,13) (2415,13) (2435,13) (2455,13)
};
\addlegendentry{Points used for adjustment}
\end{axis}
\end{tikzpicture}
\end{document}
